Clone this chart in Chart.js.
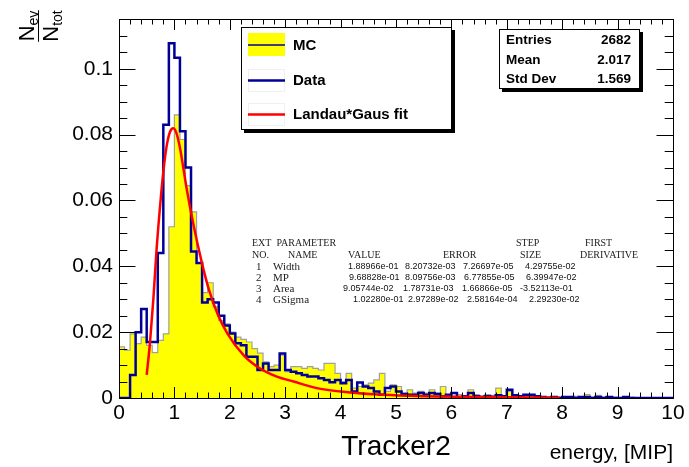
<!DOCTYPE html>
<html>
<head>
<meta charset="utf-8">
<script src="https://cdn.jsdelivr.net/npm/chart.js@4.4.1/dist/chart.umd.min.js"></script>
<style>
  html, body { margin: 0; padding: 0; background: #fff; }
  #wrap { width: 689px; height: 467px; }
</style>
</head>
<body>
<div id="wrap"><canvas id="c" width="689" height="467"></canvas></div>
<script>
// histogram: 100 bins of 0.1 MIP from 0 to 10
const binWidth = 0.1;

// MC (yellow filled histogram), one value per bin
const mcValues = [
  0.0155, 0.0145, 0.0195, 0.0165, 0.0185, 0.0160, 0.0138, 0.0175, 0.0195, 0.0520,
  0.0860, 0.0785, 0.0645, 0.0565, 0.0410, 0.0320, 0.0350, 0.0277, 0.0235, 0.0225,
  0.0200, 0.0185, 0.0178, 0.0170, 0.0150, 0.0136, 0.0110, 0.0095, 0.0100, 0.0130,
  0.0080, 0.0095, 0.0095, 0.0090, 0.0095, 0.0090, 0.0085, 0.0105, 0.0105, 0.0075,
  0.0050, 0.0075, 0.0030, 0.0035, 0.0040, 0.0045, 0.0055, 0.0075, 0.0020, 0.0040,
  0.0035, 0.0015, 0.0025, 0.0015, 0.0020, 0.0015, 0.0025, 0.0015, 0.0035, 0.0010,
  0.0005, 0.0010, 0.0005, 0.0025, 0.0010, 0.0005, 0.0010, 0.0008, 0.0030, 0.0005,
  0.0020, 0.0010, 0.0005, 0.0010, 0.0005, 0.0005, 0.0003, 0.0003, 0.0003, 0.0003,
  0.0003, 0.0000, 0.0005, 0.0003, 0.0010, 0.0003, 0.0008, 0.0003, 0.0000, 0.0003,
  0.0000, 0.0000, 0.0003, 0.0000, 0.0000, 0.0000, 0.0000, 0.0000, 0.0000, 0.0000
];

// Data (blue line histogram)
const dataValues = [
  0.0000, 0.0000, 0.0070, 0.0200, 0.0270, 0.0170, 0.0170, 0.0440, 0.0830, 0.1077,
  0.1033, 0.0810, 0.0700, 0.0445, 0.0410, 0.0290, 0.0300, 0.0290, 0.0250, 0.0220,
  0.0196, 0.0166, 0.0160, 0.0125, 0.0125, 0.0085, 0.0105, 0.0085, 0.0085, 0.0135,
  0.0085, 0.0080, 0.0075, 0.0070, 0.0065, 0.0065, 0.0060, 0.0055, 0.0048, 0.0055,
  0.0045, 0.0055, 0.0020, 0.0047, 0.0035, 0.0030, 0.0020, 0.0010, 0.0030, 0.0035,
  0.0020, 0.0012, 0.0010, 0.0010, 0.0015, 0.0010, 0.0015, 0.0012, 0.0005, 0.0010,
  0.0015, 0.0000, 0.0005, 0.0015, 0.0005, 0.0003, 0.0005, 0.0003, 0.0008, 0.0005,
  0.0025, 0.0008, 0.0005, 0.0010, 0.0010, 0.0005, 0.0003, 0.0000, 0.0003, 0.0000,
  0.0003, 0.0003, 0.0000, 0.0003, 0.0003, 0.0000, 0.0003, 0.0000, 0.0003, 0.0000,
  0.0000, 0.0003, 0.0000, 0.0000, 0.0000, 0.0000, 0.0000, 0.0000, 0.0000, 0.0000
];

// Landau*Gaus fit curve
const fitX = [0.50, 0.56, 0.62, 0.68, 0.74, 0.80, 0.86, 0.92, 0.98, 1.04, 1.10, 1.16, 1.22, 1.34,
              1.49, 1.63, 1.78, 1.96, 2.26, 2.56, 2.85, 3.15, 3.57, 4.17, 4.77, 5.37, 6.00, 7.00, 7.95];
const fitY = [0.0070, 0.0170, 0.0300, 0.0455, 0.0580, 0.0687, 0.0765, 0.0808, 0.0819, 0.0803, 0.0760, 0.0700, 0.0637, 0.0530,
              0.0415, 0.0325, 0.0255, 0.0195, 0.0128, 0.0088, 0.0065, 0.0050, 0.0030, 0.0017, 0.0010, 0.0006, 0.0004, 0.0002, 0.0001];

const xTicks = [0, 1, 2, 3, 4, 5, 6, 7, 8, 9, 10];
const yTicks = [0, 0.02, 0.04, 0.06, 0.08, 0.1];
const xMinorPerMajor = 5;
const yMinorPerMajor = 4;
const yMax = 0.1151;

const legendLabels = ['MC', 'Data', 'Landau*Gaus fit'];
const statNames = ['Entries', 'Mean', 'Std Dev'];
const statValues = ['2682', '2.017', '1.569'];

const parNo = ['1', '2', '3', '4'];
const parNames = ['Width', 'MP', 'Area', 'GSigma'];
const parValues = ['1.88966e-01', '9.68828e-01', '9.05744e-02', '1.02280e-01'];
const parErrors = ['8.20732e-03', '8.09756e-03', '1.78731e-03', '2.97289e-02'];
const parSteps = ['7.26697e-05', '6.77855e-05', '1.66866e-05', '2.58164e-04'];
const parDerivs = ['4.29755e-02', '6.39947e-02', '-3.52113e-01', '2.29230e-02'];

const BLUE = '#000099';
const RED = '#ff0000';
const YELLOW = '#ffff00';

function histPoints(values) {
  const pts = [{ x: 0, y: 0 }];
  values.forEach((v, i) => pts.push({ x: i * binWidth, y: v }));
  pts.push({ x: values.length * binWidth, y: values[values.length - 1] });
  pts.push({ x: values.length * binWidth, y: 0 });
  return pts;
}

const fitPoints = fitX.map((x, i) => ({ x: x, y: fitY[i] }));

const SANS = '"Liberation Sans", Arial, Helvetica, sans-serif';
const SERIF = '"Liberation Serif", "Times New Roman", serif';

function boxWithShadow(ctx, x0, y0, x1, y1) {
  ctx.fillStyle = '#000';
  ctx.fillRect(x0 + 3, y0 + 3, x1 - x0, y1 - y0);
  ctx.fillStyle = '#fff';
  ctx.fillRect(x0, y0, x1 - x0, y1 - y0);
  ctx.strokeStyle = '#000';
  ctx.lineWidth = 1;
  ctx.strokeRect(x0 + 0.5, y0 + 0.5, x1 - x0 - 1, y1 - y0 - 1);
}

const rootFrame = {
  id: 'rootFrame',
  afterDatasetsDraw(chart) {
    const { ctx, chartArea: a, scales: { x, y } } = chart;
    ctx.save();
    ctx.strokeStyle = '#000';
    ctx.lineWidth = 1;
    ctx.beginPath();
    // x ticks, bottom and top, pointing inward
    const xStep = (xTicks[1] - xTicks[0]) / xMinorPerMajor;
    const nx = Math.round((xTicks[xTicks.length - 1] - xTicks[0]) / xStep);
    for (let i = 0; i <= nx; i++) {
      const px = Math.round(x.getPixelForValue(xTicks[0] + i * xStep)) + 0.5;
      const len = i % xMinorPerMajor === 0 ? 11 : 5.5;
      ctx.moveTo(px, a.bottom); ctx.lineTo(px, a.bottom - len);
      ctx.moveTo(px, a.top); ctx.lineTo(px, a.top + len);
    }
    // y ticks, left and right
    const yStep = (yTicks[1] - yTicks[0]) / yMinorPerMajor;
    for (let i = 0; yTicks[0] + i * yStep <= yMax + 1e-9; i++) {
      const py = Math.round(y.getPixelForValue(yTicks[0] + i * yStep)) + 0.5;
      const len = i % yMinorPerMajor === 0 ? 16.5 : 8.3;
      ctx.moveTo(a.left, py); ctx.lineTo(a.left + len, py);
      ctx.moveTo(a.right, py); ctx.lineTo(a.right - len, py);
    }
    ctx.stroke();
    ctx.strokeRect(Math.round(a.left) + 0.5, Math.round(a.top) + 0.5,
                   Math.round(a.right - a.left), Math.round(a.bottom - a.top));
    ctx.restore();
  },
  afterDraw(chart) {
    const ctx = chart.ctx;
    ctx.save();

    // legend
    boxWithShadow(ctx, 241, 27, 452, 130);
    ctx.fillStyle = YELLOW;
    ctx.fillRect(248, 33, 37, 23);
    ctx.strokeStyle = '#f0f0f0';
    ctx.lineWidth = 1;
    ctx.strokeRect(248.5, 69.5, 36, 22);
    ctx.strokeRect(248.5, 103.5, 36, 22);
    ctx.lineWidth = 1.5;
    ctx.strokeStyle = BLUE;
    ctx.beginPath(); ctx.moveTo(248, 45); ctx.lineTo(285, 45); ctx.stroke();
    ctx.lineWidth = 2.5;
    ctx.beginPath(); ctx.moveTo(248, 80.5); ctx.lineTo(285, 80.5); ctx.stroke();
    ctx.strokeStyle = RED;
    ctx.beginPath(); ctx.moveTo(248, 114.5); ctx.lineTo(285, 114.5); ctx.stroke();
    ctx.fillStyle = '#000';
    ctx.font = 'bold 15px ' + SANS;
    ctx.textBaseline = 'middle';
    ctx.textAlign = 'left';
    [46, 81, 115].forEach((yy, i) => ctx.fillText(legendLabels[i], 293, yy));

    // stats box
    boxWithShadow(ctx, 499, 29, 640, 89);
    ctx.fillStyle = '#000';
    ctx.font = 'bold 13.5px ' + SANS;
    [40, 60, 79].forEach((yy, i) => {
      ctx.textAlign = 'left';
      ctx.fillText(statNames[i], 506, yy);
      ctx.textAlign = 'right';
      ctx.fillText(statValues[i], 631, yy);
    });

    // fit parameter printout
    ctx.fillStyle = '#222';
    ctx.textAlign = 'left';
    ctx.font = '10px ' + SERIF;
    ctx.fillText('EXT  PARAMETER', 252, 243);
    ctx.fillText('STEP', 516, 243);
    ctx.fillText('FIRST', 585, 243);
    ctx.fillText('NO.', 252, 255);
    ctx.fillText('NAME', 288, 255);
    ctx.fillText('VALUE', 348, 255);
    ctx.fillText('ERROR', 443, 255);
    ctx.fillText('SIZE', 520, 255);
    ctx.fillText('DERIVATIVE', 580, 255);
    const rowY = [267, 278, 289, 300];
    const valX = [348, 349, 343, 353];
    const errX = [405, 405, 403, 408];
    const stepX = [463, 464, 462, 467];
    const derX = [525, 526, 520, 529];
    rowY.forEach((yy, i) => {
      ctx.fillStyle = '#222';
      ctx.font = '11px ' + SERIF;
      ctx.fillText(parNo[i], 256, yy);
      ctx.fillText(parNames[i], 273, yy);
      ctx.fillStyle = '#111';
      ctx.font = '9px ' + SANS;
      ctx.fillText(parValues[i], valX[i], yy);
      ctx.fillText(parErrors[i], errX[i], yy);
      ctx.fillText(parSteps[i], stepX[i], yy);
      ctx.fillText(parDerivs[i], derX[i], yy);
    });

    // axis titles
    ctx.fillStyle = '#000';
    ctx.font = '28px ' + SANS;
    ctx.textBaseline = 'alphabetic';
    ctx.textAlign = 'center';
    ctx.fillText('Tracker2', 396, 455);
    ctx.font = '21px ' + SANS;
    ctx.textAlign = 'right';
    ctx.fillText('energy, [MIP]', 673, 459);

    // y title: N_ev / N_tot, rotated
    ctx.translate(38, 26);
    ctx.rotate(-Math.PI / 2);
    ctx.textAlign = 'left';
    ctx.font = '22px ' + SANS;
    const nW = ctx.measureText('N').width;
    ctx.font = '14px ' + SANS;
    const evW = ctx.measureText('ev').width;
    const totW = ctx.measureText('tot').width;
    const numW = nW + evW, denW = nW + totW;
    ctx.font = '22px ' + SANS;
    ctx.fillText('N', -numW / 2, -4);
    ctx.fillText('N', -denW / 2, 20);
    ctx.font = '14px ' + SANS;
    ctx.fillText('ev', -numW / 2 + nW, 0);
    ctx.fillText('tot', -denW / 2 + nW, 24);
    ctx.strokeStyle = '#000';
    ctx.lineWidth = 1;
    ctx.beginPath();
    ctx.moveTo(-Math.max(numW, denW) / 2, 0.5);
    ctx.lineTo(Math.max(numW, denW) / 2, 0.5);
    ctx.stroke();

    ctx.restore();
  }
};

new Chart(document.getElementById('c'), {
  type: 'line',
  data: {
    datasets: [
      {
        label: legendLabels[2],
        data: fitPoints,
        borderColor: RED,
        borderWidth: 2.5,
        pointRadius: 0,
        fill: false,
        cubicInterpolationMode: 'monotone',
        order: 0
      },
      {
        label: legendLabels[1],
        data: histPoints(dataValues),
        borderColor: BLUE,
        borderWidth: 2.5,
        pointRadius: 0,
        stepped: 'before',
        fill: false,
        order: 1
      },
      {
        label: legendLabels[0],
        data: histPoints(mcValues),
        borderColor: '#a0a0a0',
        borderWidth: 1.2,
        backgroundColor: YELLOW,
        pointRadius: 0,
        stepped: 'before',
        fill: 'origin',
        order: 2
      }
    ]
  },
  options: {
    responsive: false,
    animation: false,
    layout: { padding: { top: 19, right: 16, left: 0, bottom: 0 } },
    plugins: { legend: { display: false }, tooltip: { enabled: false } },
    scales: {
      x: {
        type: 'linear',
        min: 0,
        max: 10,
        grid: { display: false, drawTicks: false },
        border: { display: false },
        afterBuildTicks: (s) => { s.ticks = xTicks.map(v => ({ value: v })); },
        afterFit: (s) => { s.height = 69; },
        ticks: {
          color: '#000',
          padding: 3,
          maxRotation: 0,
          autoSkip: false,
          font: { family: SANS, size: 21 }
        }
      },
      y: {
        type: 'linear',
        min: 0,
        max: yMax,
        grid: { display: false, drawTicks: false },
        border: { display: false },
        afterBuildTicks: (s) => { s.ticks = yTicks.map(v => ({ value: v })); },
        afterFit: (s) => { s.width = 119; },
        ticks: {
          color: '#000',
          padding: 6,
          font: { family: SANS, size: 21 },
          callback: (v) => String(Math.round(v * 100) / 100)
        }
      }
    }
  },
  plugins: [rootFrame]
});
</script>
</body>
</html>
